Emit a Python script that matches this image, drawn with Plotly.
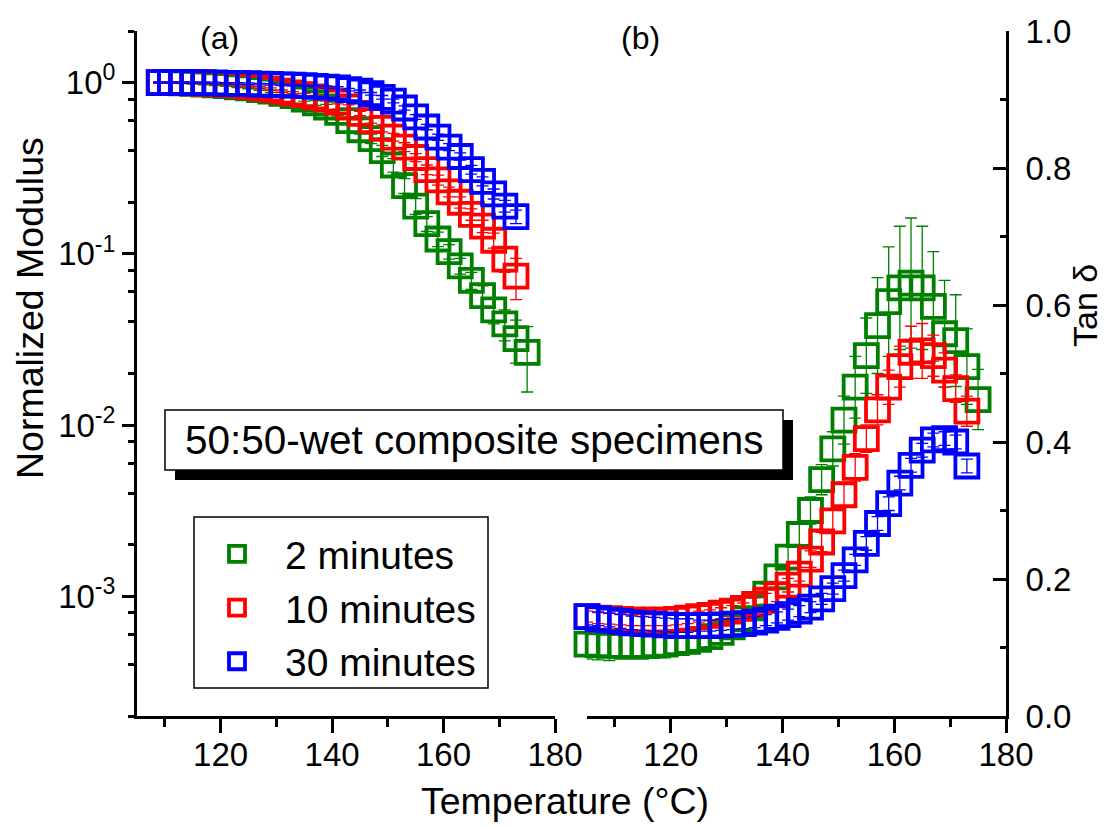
import plotly.graph_objects as go

W, H = 1104, 827

# ---------------- data ----------------
T_mod = [109, 111, 113, 115, 117, 119, 121, 123, 125, 127,
         129, 131, 133, 135, 137, 139, 141, 143, 145, 147,
         149, 151, 153, 155, 157, 159, 161, 163, 165, 167,
         169, 171, 173, 175]

mod_2min = [1.0, 1.0, 0.995, 0.99, 0.98, 0.97, 0.96, 0.945, 0.93, 0.91,
            0.89, 0.865, 0.84, 0.80, 0.76, 0.72, 0.67, 0.60, 0.53, 0.47,
            0.40, 0.33, 0.25, 0.19, 0.15, 0.122, 0.103, 0.085, 0.07, 0.057,
            0.047, 0.039, 0.032, 0.0266]
mod_2min_err = [0.01, 0.01, 0.01, 0.01, 0.01, 0.01, 0.01, 0.01, 0.01, 0.01,
                0.015, 0.015, 0.02, 0.02, 0.025, 0.025, 0.03, 0.03, 0.03, 0.03,
                0.03, 0.03, 0.025, 0.02, 0.015, 0.012, 0.01, 0.009, 0.008, 0.008,
                0.008, 0.008, 0.009, 0.011]

mod_10min = [1.0, 1.0, 1.0, 0.995, 0.99, 0.985, 0.975, 0.965, 0.95, 0.935,
             0.915, 0.89, 0.87, 0.85, 0.825, 0.80, 0.77, 0.72, 0.66, 0.60,
             0.54, 0.48, 0.42, 0.365, 0.31, 0.27, 0.23, 0.20, 0.17, 0.145,
             0.12, 0.093, 0.074]
mod_10min_err = [0.01, 0.01, 0.01, 0.01, 0.01, 0.01, 0.01, 0.01, 0.01, 0.01,
                 0.015, 0.015, 0.015, 0.015, 0.015, 0.02, 0.02, 0.02, 0.02, 0.02,
                 0.025, 0.025, 0.025, 0.02, 0.02, 0.018, 0.015, 0.015, 0.013, 0.012,
                 0.012, 0.015, 0.02]

mod_30min = [1.0, 1.0, 1.0, 1.0, 1.0, 0.995, 0.99, 0.99, 0.985, 0.98,
             0.975, 0.97, 0.965, 0.96, 0.95, 0.94, 0.93, 0.91, 0.89, 0.86,
             0.82, 0.78, 0.71, 0.63, 0.55, 0.48, 0.42, 0.37, 0.31, 0.265,
             0.224, 0.19, 0.165]
mod_30min_err = [0.01, 0.01, 0.01, 0.01, 0.01, 0.01, 0.01, 0.01, 0.01, 0.01,
                 0.01, 0.01, 0.01, 0.01, 0.01, 0.015, 0.015, 0.015, 0.015, 0.015,
                 0.02, 0.02, 0.02, 0.02, 0.02, 0.02, 0.02, 0.018, 0.018, 0.016,
                 0.015, 0.015, 0.015]

T_tan = [105, 107, 109, 111, 113, 115, 117, 119, 121, 123,
         125, 127, 129, 131, 133, 135, 137, 139, 141, 143,
         145, 147, 149, 151, 153, 155, 157, 159, 161, 163,
         165, 167, 169, 171, 173, 175]

tan_2min = [0.105, 0.104, 0.103, 0.103, 0.103, 0.103, 0.104, 0.105, 0.107, 0.109,
            0.112, 0.116, 0.122, 0.130, 0.142, 0.158, 0.178, 0.203, 0.232, 0.265,
            0.300, 0.345, 0.390, 0.432, 0.480, 0.526, 0.570, 0.605, 0.625, 0.632,
            0.625, 0.598, 0.558, 0.548, 0.510, 0.462]
tan_2min_err = [0.022, 0.022, 0.022, 0.02, 0.02, 0.02, 0.02, 0.02, 0.018, 0.018,
                0.016, 0.015, 0.015, 0.015, 0.015, 0.015, 0.015, 0.016, 0.017, 0.018,
                0.02, 0.022, 0.025, 0.035, 0.045, 0.055, 0.07, 0.08, 0.09, 0.095,
                0.09, 0.08, 0.078, 0.067, 0.055, 0.044]

tan_10min = [0.145, 0.143, 0.142, 0.141, 0.140, 0.140, 0.140, 0.140, 0.141, 0.143,
             0.145, 0.147, 0.150, 0.153, 0.157, 0.163, 0.169, 0.177, 0.191, 0.207,
             0.229, 0.254, 0.285, 0.323, 0.363, 0.405, 0.447, 0.480, 0.510, 0.531,
             0.533, 0.526, 0.505, 0.478, 0.445]
tan_10min_err = [0.008, 0.008, 0.008, 0.008, 0.008, 0.008, 0.008, 0.008, 0.008, 0.008,
                 0.008, 0.008, 0.008, 0.008, 0.008, 0.01, 0.01, 0.01, 0.01, 0.01,
                 0.012, 0.014, 0.016, 0.018, 0.02, 0.02, 0.022, 0.025, 0.03, 0.038,
                 0.04, 0.03, 0.025, 0.02, 0.022]

tan_30min = [0.145, 0.142, 0.140, 0.138, 0.136, 0.135, 0.134, 0.133, 0.132, 0.132,
             0.132, 0.132, 0.133, 0.134, 0.135, 0.137, 0.140, 0.144, 0.148, 0.153,
             0.159, 0.171, 0.186, 0.205, 0.228, 0.252, 0.281, 0.310, 0.340, 0.366,
             0.388, 0.403, 0.405, 0.400, 0.365]
tan_30min_err = [0.012, 0.01, 0.01, 0.01, 0.01, 0.01, 0.01, 0.01, 0.01, 0.01,
                 0.008, 0.008, 0.008, 0.008, 0.008, 0.008, 0.008, 0.008, 0.008, 0.008,
                 0.008, 0.008, 0.008, 0.008, 0.008, 0.01, 0.01, 0.01, 0.01, 0.01,
                 0.01, 0.01, 0.01, 0.01, 0.01]

series_names = ["2 minutes", "10 minutes", "30 minutes"]
series_colors = ["#008000", "#FF0000", "#0000FF"]

mod_x_ticks = [120, 140, 160, 180]
mod_x_minor = [110, 130, 150, 170]
mod_y_ticks = [1e-3, 1e-2, 1e-1, 1]
mod_y_text = ["10<sup>-3</sup>", "10<sup>-2</sup>", "10<sup>-1</sup>", "10<sup>0</sup>"]
mod_y_minor = [2e-4, 4e-4, 6e-4, 8e-4, 2e-3, 4e-3, 6e-3, 8e-3,
               2e-2, 4e-2, 6e-2, 8e-2, 0.2, 0.4, 0.6, 0.8, 2]
tan_y_ticks = [0.0, 0.2, 0.4, 0.6, 0.8, 1.0]
tan_y_text = ["0.0", "0.2", "0.4", "0.6", "0.8", "1.0"]
tan_y_minor = [0.1, 0.3, 0.5, 0.7, 0.9]

FONT = "'Liberation Sans', Arial, Helvetica, sans-serif"


def px(x):
    return x / W


def py(y):
    return 1 - y / H


fig = go.Figure()

mod_y = [mod_2min, mod_10min, mod_30min]
mod_e = [mod_2min_err, mod_10min_err, mod_30min_err]
tan_y = [tan_2min, tan_10min, tan_30min]
tan_e = [tan_2min_err, tan_10min_err, tan_30min_err]

for name, col, yv, ev in zip(series_names, series_colors, mod_y, mod_e):
    fig.add_trace(go.Scatter(
        x=T_mod[:len(yv)], y=yv, mode="markers", name=name,
        xaxis="x", yaxis="y", cliponaxis=False,
        marker=dict(symbol="square-open", size=23, color=col,
                    line=dict(width=3.8, color=col)),
        error_y=dict(type="data", array=ev, visible=True, color=col,
                     thickness=1.3, width=6),
        showlegend=True,
    ))

for name, col, yv, ev in zip(series_names, series_colors, tan_y, tan_e):
    fig.add_trace(go.Scatter(
        x=T_tan[:len(yv)], y=yv, mode="markers", name=name,
        xaxis="x2", yaxis="y2", cliponaxis=False,
        marker=dict(symbol="square-open", size=23, color=col,
                    line=dict(width=3.8, color=col)),
        error_y=dict(type="data", array=ev, visible=True, color=col,
                     thickness=1.3, width=6),
        showlegend=False,
    ))

ydom = [py(716), py(31)]
axis_common = dict(showgrid=False, zeroline=False, showline=True, automargin=False,
                   linecolor="black", linewidth=3, tickcolor="black",
                   tickwidth=3, tickfont=dict(family=FONT, size=33, color="black"))

fig.update_layout(
    template="none",
    width=W, height=H,
    margin=dict(l=0, r=0, t=0, b=0, pad=0),
    paper_bgcolor="white", plot_bgcolor="white",
    font=dict(family=FONT, color="black"),
    xaxis=dict(domain=[px(137), px(555)], range=[105, 180], anchor="y",
               ticks="outside", ticklen=14, tickmode="array", tickvals=mod_x_ticks,
               ticklabelstandoff=-7,
               minor=dict(tickmode="array", tickvals=mod_x_minor, ticks="outside",
                          ticklen=8, tickwidth=3, tickcolor="black"),
               **axis_common),
    yaxis=dict(domain=ydom, type="log", range=[-3.69897, 0.30103], anchor="x",
               ticks="outside", ticklen=12, tickmode="array", tickvals=mod_y_ticks,
               ticktext=mod_y_text,
               minor=dict(tickmode="array", tickvals=mod_y_minor, ticks="outside",
                          ticklen=6, tickwidth=3, tickcolor="black"),
               **axis_common),
    xaxis2=dict(domain=[px(587), px(1006)], range=[105, 180], anchor="y2",
                ticks="outside", ticklen=14, tickmode="array", tickvals=mod_x_ticks,
                ticklabelstandoff=-7,
                minor=dict(tickmode="array", tickvals=mod_x_minor, ticks="outside",
                           ticklen=8, tickwidth=3, tickcolor="black"),
                **axis_common),
    yaxis2=dict(domain=ydom, range=[0, 1], anchor="x2", side="right",
                ticks="inside", ticklen=13, tickmode="array", tickvals=tan_y_ticks,
                ticktext=tan_y_text, ticklabelstandoff=10,
                minor=dict(tickmode="array", tickvals=tan_y_minor, ticks="inside",
                           ticklen=6, tickwidth=3, tickcolor="black"),
                **axis_common),
    legend=dict(x=px(189), y=py(522), xanchor="left", yanchor="top",
                bgcolor="rgba(0,0,0,0)", borderwidth=0,
                font=dict(family=FONT, size=39, color="black"),
                itemwidth=86, tracegroupgap=0),
    shapes=[
        # legend frame
        dict(type="rect", xref="paper", yref="paper", layer="above",
             x0=px(194), x1=px(488), y0=py(688), y1=py(517),
             fillcolor="white", line=dict(color="black", width=1.5)),
        # label shadow and frame
        dict(type="rect", xref="paper", yref="paper", layer="above",
             x0=px(175), x1=px(793), y0=py(480), y1=py(420),
             fillcolor="black", line=dict(color="black", width=0)),
        dict(type="rect", xref="paper", yref="paper", layer="above",
             x0=px(165), x1=px(783), y0=py(470), y1=py(410),
             fillcolor="white", line=dict(color="black", width=1.5)),
    ],
    annotations=[
        dict(text="50:50-wet composite specimens", x=px(474), y=py(440),
             xanchor="center", yanchor="middle",
             xref="paper", yref="paper", showarrow=False,
             font=dict(family=FONT, size=40.5, color="black")),
        dict(text="Normalized Modulus", x=px(30), y=py(308), textangle=-90,
             xanchor="center", yanchor="middle",
             xref="paper", yref="paper", showarrow=False,
             font=dict(family=FONT, size=37.5, color="black")),
        dict(text="Tan δ", x=px(1085), y=py(306), textangle=-90,
             xanchor="center", yanchor="middle",
             xref="paper", yref="paper", showarrow=False,
             font=dict(family=FONT, size=34, color="black")),
        dict(text="Temperature (°C)", x=px(565), y=py(801),
             xanchor="center", yanchor="middle",
             xref="paper", yref="paper", showarrow=False,
             font=dict(family=FONT, size=37.5, color="black")),
        dict(text="(a)", x=px(219), y=py(38),
             xanchor="center", yanchor="middle",
             xref="paper", yref="paper", showarrow=False,
             font=dict(family=FONT, size=32, color="black")),
        dict(text="(b)", x=px(640), y=py(38),
             xanchor="center", yanchor="middle",
             xref="paper", yref="paper", showarrow=False,
             font=dict(family=FONT, size=32, color="black")),
    ],
)

fig.write_html("out.html")
